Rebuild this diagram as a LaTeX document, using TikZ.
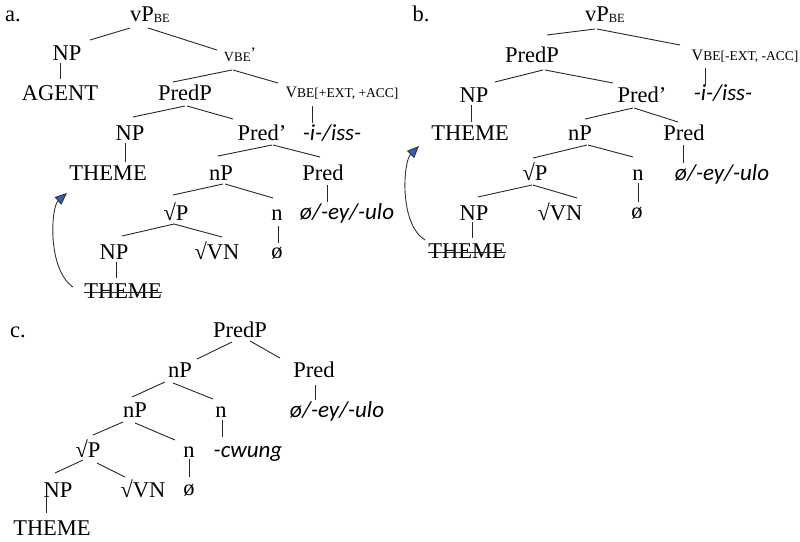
\documentclass[tikz,border=0pt]{standalone}
\usepackage{fontspec}
\setmainfont{Liberation Serif}
\newfontfamily\morphfont{Carlito}
\usetikzlibrary{arrows.meta}

% small-caps style labels and subscripts
\newcommand\smtext[1]{{\fontsize{13.5}{13.5}\selectfont #1}}
\newcommand\vpbe{vP\raisebox{-1.6pt}{\fontsize{12.5}{12.5}\selectfont BE}}
\newcommand\vbebar{{\fontsize{14}{14}\selectfont V}{\fontsize{13}{13}\selectfont BE}\raisebox{3pt}{\fontsize{16}{16}\selectfont ’}}
\newcommand\bigv{{\fontsize{16}{16}\selectfont V}}
% connector between two labels, each end given as an offset from the label's baseline
\newcommand\branch[4]{\draw[branchline] ([shift={(#2)}]#1.base) -- ([shift={(#4)}]#3.base);}

\definecolor{tipblue}{RGB}{45,95,190}

\begin{document}
\begin{tikzpicture}[x=1pt,y=-1pt,
  lab/.style={anchor=base, inner sep=0pt, outer sep=0pt, font=\fontsize{22.5}{27}\selectfont},
  morph/.style={font=\fontsize{23}{27}\selectfont\morphfont\itshape},
  branchline/.style={draw=black!85, line width=0.9pt},
  movearrow/.style={draw=black!80, line width=0.9pt,
    -{Triangle[length=12pt,width=10pt,fill=tipblue]}}]
\useasboundingbox (0,0) rectangle (800,541);

% ---------------- tree a ----------------
\node[lab] (a-lab) at (13,21) {a.};
\node[lab] (a-vP) at (150,21) {\vpbe};
\node[lab] (a-np1) at (67,60) {NP};
\node[lab] (a-agent) at (60,100) {AGENT};
\node[lab] (a-vbar) at (240,61) {\vbebar};
\node[lab] (a-predp) at (185,100) {PredP};
\node[lab] (a-v) at (342,97) {\bigv\smtext{BE[+EXT, +ACC]}};
\node[lab,morph] (a-iss) at (332,140) {-i-/iss-};
\node[lab] (a-np2) at (130,140) {NP};
\node[lab] (a-predbar) at (262,140) {Pred’};
\node[lab] (a-theme) at (108,180) {THEME};
\node[lab] (a-nP) at (221,180) {nP};
\node[lab] (a-pred) at (323,180) {Pred};
\node[lab] (a-rootp) at (176,220) {√P};
\node[lab] (a-n) at (277,220) {n};
\node[lab,morph] (a-ey) at (347,219) {ø/-ey/-ulo};
\node[lab] (a-np3) at (114,259) {NP};
\node[lab] (a-vn) at (217,259) {√VN};
\node[lab] (a-null) at (277,258) {ø};
\node[lab] (a-trace) at (123,298) {THEME};
\draw[branchline] ([shift={(0,-6)}]a-trace.base west) -- ([shift={(0,-6)}]a-trace.base east);

\branch{a-vP}{-20,7}{a-np1}{23,-20}
\branch{a-vP}{-2,7}{a-vbar}{-23,-11}
\branch{a-np1}{-7,3}{a-agent}{0,-21}
\branch{a-vbar}{-8,9}{a-predp}{-12,-18}
\branch{a-vbar}{-7,9}{a-v}{-64,-14}
\branch{a-v}{-30,9}{a-iss}{-20,-17}
\branch{a-predp}{0,6}{a-np2}{3,-23}
\branch{a-predp}{2,6}{a-predbar}{-29,-21}
\branch{a-np2}{-5,3}{a-theme}{17,-18}
\branch{a-predbar}{10,5}{a-nP}{-3,-24}
\branch{a-predbar}{11,5}{a-pred}{-3,-23}
\branch{a-pred}{4,5}{a-ey}{-20,-17}
\branch{a-nP}{2,4}{a-rootp}{-3,-25}
\branch{a-nP}{4,4}{a-n}{-4,-22}
\branch{a-rootp}{-2,4}{a-np3}{8,-23}
\branch{a-rootp}{-2,4}{a-vn}{5,-22}
\branch{a-n}{1,6}{a-null}{1,-15}
\branch{a-np3}{2,3}{a-trace}{-7,-20}

\draw[movearrow] ([shift={(-50,-11)}]a-trace.base)
  .. controls +(-26,-18) and +(-16,14) .. ([shift={(-41,13)}]a-theme.base);

% ---------------- tree b ----------------
\node[lab] (b-lab) at (421,21) {b.};
\node[lab] (b-vP) at (605,21) {\vpbe};
\node[lab] (b-predp) at (532,62) {PredP};
\node[lab] (b-v) at (745,60) {\bigv\smtext{BE[-EXT, -ACC]}};
\node[lab] (b-np1) at (474,102) {NP};
\node[lab] (b-predbar) at (642,102) {Pred’};
\node[lab,morph] (b-iss) at (723,100) {-i-/iss-};
\node[lab] (b-theme) at (470,140) {THEME};
\node[lab] (b-nP) at (580,140) {nP};
\node[lab] (b-pred) at (684,140) {Pred};
\node[lab] (b-rootp) at (535,180) {√P};
\node[lab] (b-n) at (638,180) {n};
\node[lab,morph] (b-ey) at (722,180) {ø/-ey/-ulo};
\node[lab] (b-np2) at (474,220) {NP};
\node[lab] (b-vn) at (560,220) {√VN};
\node[lab] (b-null) at (637,218) {ø};
\node[lab] (b-trace) at (467,258) {THEME};
\draw[branchline] ([shift={(0,-6)}]b-trace.base west) -- ([shift={(0,-6)}]b-trace.base east);

\branch{b-vP}{-10,8}{b-predp}{15,-27}
\branch{b-vP}{-8,8}{b-v}{-65,-15}
\branch{b-predp}{11,8}{b-np1}{21,-20}
\branch{b-predp}{13,8}{b-predbar}{-29,-19}
\branch{b-v}{-40,8}{b-iss}{-18,-15}
\branch{b-np1}{-3,3}{b-theme}{1,-18}
\branch{b-predbar}{-9,6}{b-nP}{5,-21}
\branch{b-predbar}{-8,6}{b-pred}{-6,-18}
\branch{b-pred}{-1,5}{b-ey}{-39,-17}
\branch{b-nP}{7,5}{b-rootp}{-2,-22}
\branch{b-nP}{8,5}{b-n}{-5,-23}
\branch{b-rootp}{-3,5}{b-np2}{4,-23}
\branch{b-rootp}{-2,5}{b-vn}{17,-22}
\branch{b-n}{0,3}{b-null}{1,-16}
\branch{b-np2}{-2,2}{b-trace}{5,-20}

\draw[movearrow] ([shift={(-42,-18)}]b-trace.base)
  .. controls +(-26,-16) and +(-16,16) .. ([shift={(-51,6)}]b-theme.base);

% ---------------- tree c ----------------
\node[lab] (c-lab) at (18,337) {c.};
\node[lab] (c-predp) at (240,337) {PredP};
\node[lab] (c-nP1) at (180,377) {nP};
\node[lab] (c-pred) at (314,377) {Pred};
\node[lab] (c-nP2) at (135,417) {nP};
\node[lab] (c-n1) at (221,417) {n};
\node[lab,morph] (c-ey) at (337,417) {ø/-ey/-ulo};
\node[lab] (c-rootp) at (88,457) {√P};
\node[lab] (c-n2) at (189,457) {n};
\node[lab,morph] (c-cwung) at (248,457) {-cwung};
\node[lab] (c-np) at (58,497) {NP};
\node[lab] (c-vn) at (143,497) {√VN};
\node[lab] (c-null) at (189,495) {ø};
\node[lab] (c-theme) at (52,535) {THEME};

\branch{c-predp}{-8,5}{c-nP1}{17,-18}
\branch{c-predp}{10,4}{c-pred}{-34,-19}
\branch{c-nP1}{-15,5}{c-nP2}{-3,-20}
\branch{c-nP1}{-7,6}{c-n1}{-8,-18}
\branch{c-pred}{1,8}{c-ey}{-22,-17}
\branch{c-nP2}{-12,5}{c-rootp}{5,-22}
\branch{c-nP2}{0,6}{c-n2}{-14,-17}
\branch{c-n1}{1,3}{c-cwung}{-26,-20}
\branch{c-rootp}{-5,3}{c-np}{-3,-24}
\branch{c-rootp}{9,6}{c-vn}{-18,-20}
\branch{c-n2}{0,2}{c-null}{0,-18}
\branch{c-np}{-12,0}{c-theme}{-6,-22}
\end{tikzpicture}
\end{document}
